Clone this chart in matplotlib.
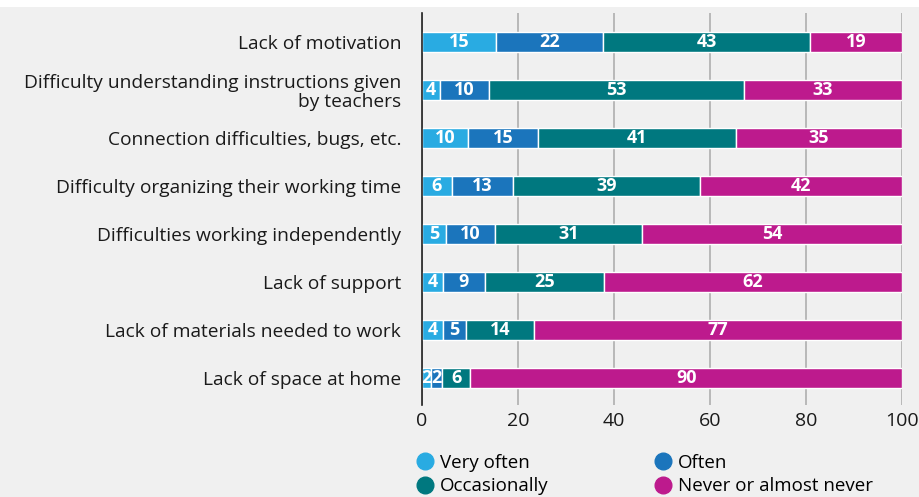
import matplotlib.pyplot as plt
from matplotlib.lines import Line2D

plt.rcParams['font.family'] = ['Open Sans', 'DejaVu Sans']

categories = [
    'Lack of motivation',
    'Difficulty understanding instructions given\nby teachers',
    'Connection difficulties, bugs, etc.',
    'Difficulty organizing their working time',
    'Difficulties working independently',
    'Lack of support',
    'Lack of materials needed to work',
    'Lack of space at home',
]
series_names = ['Very often', 'Often', 'Occasionally', 'Never or almost never']
very_often = [15.4, 3.8, 9.6, 6.2, 5.0, 4.3, 4.3, 1.8]
often = [22.3, 10.2, 14.6, 12.8, 10.3, 8.8, 4.8, 2.4]
occasionally = [43.2, 53.0, 41.2, 38.9, 30.6, 24.9, 14.3, 5.9]
never = [19.1, 33.0, 34.6, 42.1, 54.1, 62.0, 76.6, 89.9]
labels = [
    [15, 4, 10, 6, 5, 4, 4, 2],
    [22, 10, 15, 13, 10, 9, 5, 2],
    [43, 53, 41, 39, 31, 25, 14, 6],
    [19, 33, 35, 42, 54, 62, 77, 90],
]
colors = ['#29abe2', '#1b75bc', '#00787f', '#bd1a8d']

bg = '#f0f0f0'
fig = plt.figure(figsize=(9.2, 4.97), dpi=100, facecolor='white')
fig.patches.append(plt.Rectangle((0, 0), 1, 1 - 7 / 497, transform=fig.transFigure,
                                 facecolor=bg, edgecolor='none', zorder=-10))
ax = fig.add_axes([422 / 920, 1 - 405 / 497, 480 / 920, 392 / 497])
ax.set_facecolor(bg)

y = list(range(len(categories)))
left = [0] * len(categories)
for vals, labs, c in zip([very_often, often, occasionally, never], labels, colors):
    bars = ax.barh(y, vals, left=left, height=0.4, color=c, edgecolor='white',
                   linewidth=1, zorder=3)
    for b, lab in zip(bars, labs):
        ax.text(b.get_x() + b.get_width() / 2, b.get_y() + b.get_height() / 2 + 0.01, str(lab),
                ha='center', va='center', color='white', fontsize=13,
                fontweight='bold', zorder=4)
    left = [l + v for l, v in zip(left, vals)]

ax.set_xlim(0, 100)
ax.set_ylim(7.5625, -0.604)
ax.set_xticks([0, 20, 40, 60, 80, 100])
ax.set_yticks(y)
ax.set_yticklabels(categories, fontsize=13.8, color='#1a1a1a', linespacing=1.05)
ax.tick_params(axis='x', length=0, labelsize=14, pad=5, colors='#1a1a1a')
ax.tick_params(axis='y', length=0, pad=15)
ax.grid(axis='x', color='#b4b4b4', linewidth=1.3, zorder=0)
for s in ['top', 'right', 'bottom']:
    ax.spines[s].set_visible(False)
ax.spines['left'].set_color('#222222')
ax.spines['left'].set_linewidth(1.2)
ax.spines['left'].set_zorder(5)

handles = [Line2D([], [], marker='o', linestyle='none', markersize=12,
                  markerfacecolor=colors[i], markeredgecolor=colors[i])
           for i in [0, 2, 1, 3]]
names = [series_names[i] for i in [0, 2, 1, 3]]
fig.legend(handles, names, loc='upper left', bbox_to_anchor=(412 / 920, 1 - 450 / 497),
           ncol=2, frameon=False, fontsize=13.5, handletextpad=0.3,
           columnspacing=5.6, labelspacing=0.3, handlelength=1.0,
           borderaxespad=0, borderpad=0.2)

fig.savefig('out.png', dpi=100, facecolor=fig.get_facecolor())
